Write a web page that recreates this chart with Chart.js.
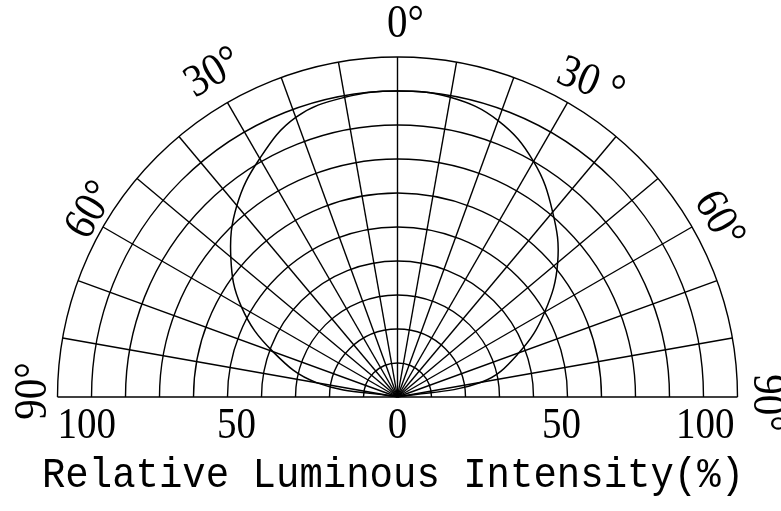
<!DOCTYPE html>
<html><head><meta charset="utf-8">
<script src="https://cdn.jsdelivr.net/npm/chart.js@4/dist/chart.umd.min.js"></script>
<style>html,body{margin:0;padding:0;background:#fff;overflow:hidden}canvas{display:block}</style>
</head><body>
<canvas id="c" width="781" height="511"></canvas>
<script>
// ---- data ----
const angles    = [-90,-80,-70,-60,-50,-40,-30,-20,-10,0,10,20,30,40,50,60,70,80,90];
const intensity = [0,24,39,53,64,73.5,81,87.5,89.5,90,89.5,86.5,80,71,61.5,50,38,25,0];
const ringValues  = [10,20,30,40,50,60,70,80,90,100];
const spokeAngles = [-90,-80,-70,-60,-50,-40,-30,-20,-10,0,10,20,30,40,50,60,70,80,90];
const tickValues  = [-100,-50,0,50,100];
const tickLabels  = ['100','50','0','50','100'];
const angleLabelAngles = [-90,-60,-30,0,30,60,90];
const angleLabelTexts  = ['90°','60°','30°','0°','30 °','60°','90°'];
const axisTitle = 'Relative Luminous Intensity(%)';

const rad = d => d*Math.PI/180;
const curve = angles.map((a,i)=>({x: intensity[i]*Math.sin(rad(a)), y: intensity[i]*Math.cos(rad(a))}));

// label placement style (pixel nudges / rotation overrides)
const labelStyle = {
  '-90': {r:108.5, dx:5,  dy:-6, rot:-90},
  '-60': {r:108,   dx:12, dy:-3, rot:-60},
  '-30': {r:110,   dx:3,  dy:0,  rot:-30},
  '0':   {r:110,   dx:8,  dy:2,  rot:0},
  '30':  {r:110,   dx:6,  dy:10, rot:22},
  '60':  {r:109,   dx:0,  dy:8,  rot:60},
  '90':  {r:108.5, dx:0,  dy:6,  rot:90}
};

const polarGrid = {
  id:'polarGrid',
  beforeDatasetsDraw(chart){
    const {ctx, scales:{x, y}} = chart;
    const cx = x.getPixelForValue(0), cy = y.getPixelForValue(0);
    const pxPer = x.getPixelForValue(1) - cx;
    const maxR = ringValues[ringValues.length-1];
    ctx.save();
    ctx.strokeStyle = '#000';
    ctx.lineWidth = 1.4;
    ringValues.forEach(v=>{
      ctx.beginPath();
      ctx.arc(cx, cy, v*pxPer, Math.PI, 2*Math.PI);
      ctx.stroke();
    });
    spokeAngles.forEach(a=>{
      ctx.beginPath();
      ctx.moveTo(cx, cy);
      ctx.lineTo(x.getPixelForValue(maxR*Math.sin(rad(a))), y.getPixelForValue(maxR*Math.cos(rad(a))));
      ctx.stroke();
    });
    ctx.restore();
  },
  afterDraw(chart){
    const {ctx, scales:{x, y}} = chart;
    ctx.save();
    ctx.fillStyle = '#000';
    // tick labels
    ctx.font = '39px "Liberation Serif"';
    ctx.textBaseline = 'alphabetic';
    tickValues.forEach((v,i)=>{
      let px = x.getPixelForValue(v);
      if (i===0){ ctx.textAlign='left'; }
      else if (i===tickValues.length-1){ ctx.textAlign='right'; px -= 3; }
      else { ctx.textAlign='center'; px += (v<0? 9 : (v>0? -6:0)); }
      ctx.save();
      ctx.translate(px, 438);
      ctx.scale(1, 1.13);
      ctx.fillText(tickLabels[i], 0, 0);
      ctx.restore();
    });
    // angle labels
    ctx.font = '41px "Liberation Serif"';
    ctx.textAlign = 'center';
    ctx.textBaseline = 'middle';
    angleLabelAngles.forEach((a,i)=>{
      const s = labelStyle[String(a)];
      const px = x.getPixelForValue(s.r*Math.sin(rad(a))) + s.dx;
      const py = y.getPixelForValue(s.r*Math.cos(rad(a))) + s.dy;
      ctx.save();
      ctx.translate(px, py);
      ctx.rotate(rad(s.rot));
      ctx.scale(1, 1.12);
      ctx.fillText(angleLabelTexts[i], 0, 0);
      ctx.restore();
    });
    // axis title
    ctx.font = '39px "Liberation Mono"';
    ctx.textAlign = 'center';
    ctx.textBaseline = 'alphabetic';
    ctx.save();
    ctx.translate(393, 487);
    ctx.scale(1, 1.08);
    ctx.fillText(axisTitle, 0, 0);
    ctx.restore();
    ctx.restore();
  }
};

new Chart(document.getElementById('c'), {
  type:'scatter',
  data:{ datasets:[{
    data: curve,
    showLine:true,
    borderColor:'#000',
    borderWidth:1.5,
    pointRadius:0,
    tension:0.4,
    fill:false
  }]},
  options:{
    responsive:false,
    animation:false,
    layout:{ padding:{ left:57.5, right:43.5, top:57, bottom:114 } },
    plugins:{ legend:{display:false}, tooltip:{enabled:false} },
    scales:{
      x:{ type:'linear', min:-100, max:100, display:false },
      y:{ type:'linear', min:0, max:100, display:false }
    }
  },
  plugins:[polarGrid]
});
</script>
</body></html>
